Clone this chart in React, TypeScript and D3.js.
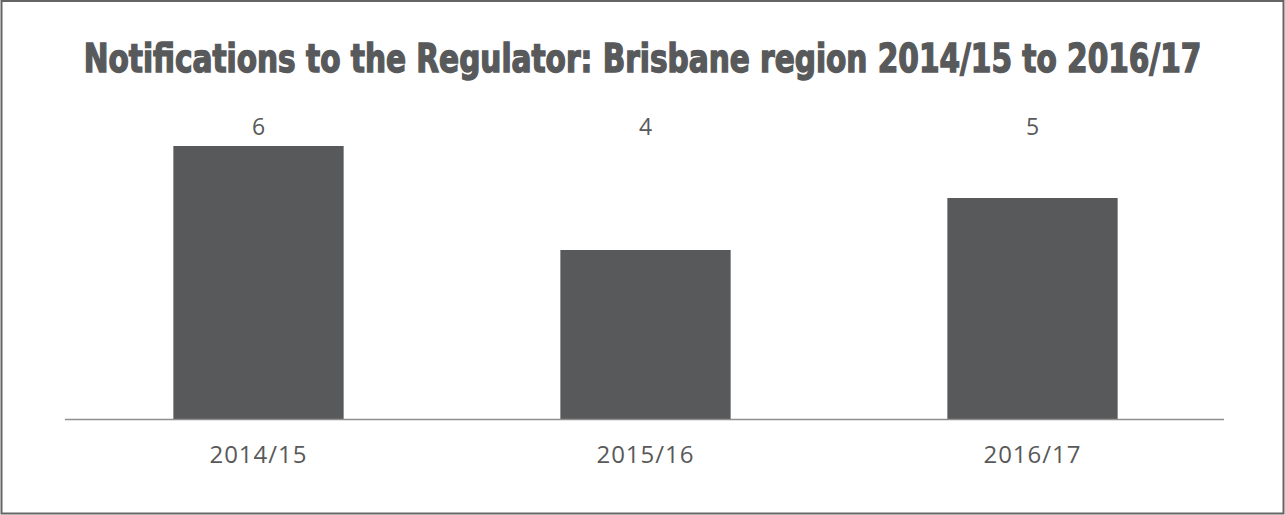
import React, { useEffect, useRef } from 'react'
import * as d3 from 'd3'

const years: string[] = ['2014/15', '2015/16', '2016/17']
const notifications: number[] = [6, 4, 5]
const chartTitle = 'Notifications to the Regulator: Brisbane region 2014/15 to 2016/17'

const W = 1285
const H = 515

export default function App() {
  const ref = useRef<SVGSVGElement | null>(null)

  useEffect(() => {
    document.body.style.margin = '0'
    const svg = d3.select(ref.current)
    svg.selectAll('*').remove()

    const dark = '#58595b'
    const left = 65
    const right = 1226
    const baseline = 419
    const top = 146

    // outer frame
    svg.append('rect')
      .attr('x', 1.5)
      .attr('y', 1)
      .attr('width', W - 3)
      .attr('height', H - 2.5)
      .attr('fill', 'white')
      .attr('stroke', '#646464')
      .attr('stroke-width', 2)

    // heavy condensed title: squeeze horizontally to the original width
    const title = svg.append('text')
      .attr('x', 0)
      .attr('y', 0)
      .attr('text-anchor', 'middle')
      .attr('fill', dark)
      .attr('stroke', dark)
      .attr('stroke-width', 1.4)
      .attr('font-family', '"DejaVu Sans Condensed", "DejaVu Sans", sans-serif')
      .attr('font-weight', 700)
      .attr('font-size', 39)
      .text(chartTitle)
    const natural = (title.node() as SVGTextElement).getComputedTextLength() || 1118
    title.attr('transform', `translate(${W / 2}, 72) scale(${1118 / natural}, 1)`)

    const x = d3.scaleBand<string>()
      .domain(years)
      .range([left, right])
      .paddingInner(0.56)
      .paddingOuter(0.28)

    // value axis doesn't start at zero in the original
    const y = d3.scaleLinear()
      .domain([0.75, d3.max(notifications) as number])
      .range([baseline, top])

    svg.append('g')
      .selectAll('rect')
      .data(notifications)
      .enter()
      .append('rect')
      .attr('x', (d, i) => x(years[i]) as number)
      .attr('width', x.bandwidth())
      .attr('y', d => y(d))
      .attr('height', d => baseline - y(d))
      .attr('fill', dark)

    svg.append('line')
      .attr('x1', left)
      .attr('x2', right - 2)
      .attr('y1', baseline + 0.5)
      .attr('y2', baseline + 0.5)
      .attr('stroke', '#8f8f8f')
      .attr('stroke-width', 1.5)

    const font = '"Open Sans", sans-serif'

    svg.append('g')
      .selectAll('text')
      .data(notifications)
      .enter()
      .append('text')
      .attr('x', (d, i) => (x(years[i]) as number) + x.bandwidth() / 2)
      .attr('y', 135)
      .attr('text-anchor', 'middle')
      .attr('fill', '#595959')
      .attr('font-family', font)
      .attr('font-size', 23)
      .text(d => d)

    svg.append('g')
      .selectAll('text')
      .data(years)
      .enter()
      .append('text')
      .attr('x', d => (x(d) as number) + x.bandwidth() / 2)
      .attr('y', 463)
      .attr('text-anchor', 'middle')
      .attr('fill', '#595959')
      .attr('font-family', font)
      .attr('font-size', 24)
      .attr('letter-spacing', 1)
      .text(d => d)
  }, [])

  return <svg ref={ref} width={W} height={H} style={{ display: 'block' }}></svg>
}
